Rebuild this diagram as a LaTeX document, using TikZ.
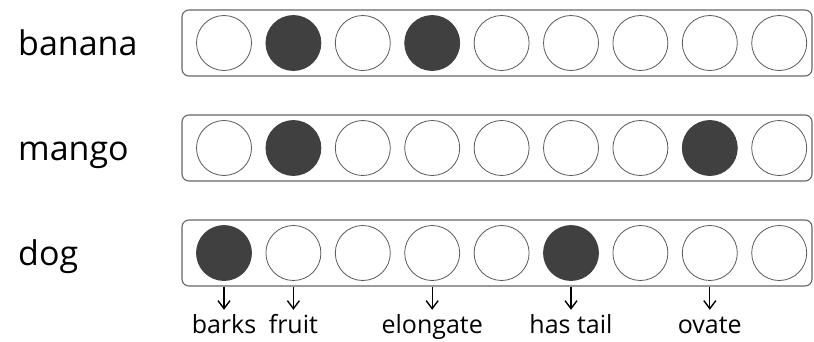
\documentclass[tikz,border=0pt]{standalone}
\usepackage{fontspec}
\setmainfont{Open Sans}
\usetikzlibrary{arrows.meta}
\definecolor{bitfill}{gray}{0.25}
\definecolor{bitline}{gray}{0.35}
\definecolor{boxline}{gray}{0.4}

\begin{document}
\begin{tikzpicture}[x=1pt,y=-1pt,>={Straight Barb[length=8pt,width=12pt,line width=1.4pt]},
  vecbox/.style={draw=boxline,line width=1.1pt,rounded corners=7pt,minimum width=630pt,minimum height=66pt,inner sep=0pt},
  bit/.style={circle,draw=bitline,line width=0.8pt,minimum size=55pt,inner sep=0pt},
  on/.style={bit,fill=bitfill,draw=bitfill},
  word/.style={anchor=base west,inner sep=0pt,font=\fontsize{34}{40}\selectfont},
  feat/.style={anchor=base,inner sep=4pt,text height=19pt,text depth=6pt,font=\fontsize{25}{30}\selectfont}]
  \useasboundingbox (0,0) rectangle (814,341);
  % one row per word
  \node[word] (banana-lbl) at (18,55) {banana};
  \node[vecbox] (banana-box) at (497,43) {};
  \foreach \i/\s in {1/bit,2/on,3/bit,4/on,5/bit,6/bit,7/bit,8/bit,9/bit}
    \node[\s] (banana-\i) at ({224+69.4*(\i-1)},43) {};
  \node[word] (mango-lbl) at (18,160) {mango};
  \node[vecbox] (mango-box) at (497,148) {};
  \foreach \i/\s in {1/bit,2/on,3/bit,4/bit,5/bit,6/bit,7/bit,8/on,9/bit}
    \node[\s] (mango-\i) at ({224+69.4*(\i-1)},148) {};
  \node[word] (dog-lbl) at (18,265) {dog};
  \node[vecbox] (dog-box) at (497,253) {};
  \foreach \i/\s in {1/on,2/bit,3/bit,4/bit,5/bit,6/on,7/bit,8/bit,9/bit}
    \node[\s] (dog-\i) at ({224+69.4*(\i-1)},253) {};
  % feature names under the dog vector
  \foreach \i/\txt/\nm in {1/barks/barks,2/fruit/fruit,4/elongate/elong,6/has tail/tail,8/ovate/ovate} {
    \node[feat] (\nm) at ({224+69.4*(\i-1)},333) {\txt};
    \draw[->,line width=1.1pt] (dog-box.south -| dog-\i) -- (\nm.north);
  }
\end{tikzpicture}
\end{document}
